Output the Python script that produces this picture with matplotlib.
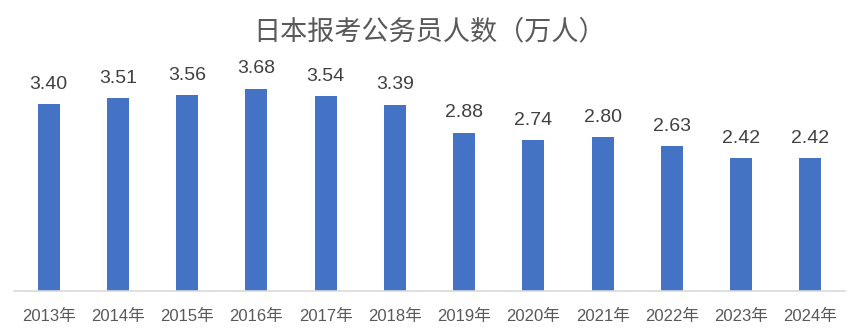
import numpy as np
import matplotlib
matplotlib.use("Agg")
import matplotlib.pyplot as plt

plt.rcParams['font.family'] = ['Liberation Sans', 'Noto Sans CJK SC', 'DejaVu Sans']

years = ["2013年", "2014年", "2015年", "2016年", "2017年", "2018年",
         "2019年", "2020年", "2021年", "2022年", "2023年", "2024年"]
values = [3.40, 3.51, 3.56, 3.68, 3.54, 3.39, 2.88, 2.74, 2.80, 2.63, 2.42, 2.42]

fig = plt.figure(figsize=(8.59, 3.33), dpi=100)
ax = fig.add_axes([0.0163, 0.1261, 0.9674, 0.6607])

x = np.arange(len(years))
ax.bar(x, values, width=0.32, color="#4472C4", zorder=2)
for xi, v in zip(x, values):
    ax.annotate(f"{v:.2f}", (xi, v), xytext=(0, 8), textcoords="offset points",
                ha="center", va="bottom", fontsize=14, color="#404040")

ax.set_xlim(-0.5, len(years) - 0.5)
ax.set_ylim(0, 4.0)
ax.set_xticks(x)
ax.set_xticklabels(years, fontsize=12, color="#595959")
ax.tick_params(axis="x", length=0, pad=13)
ax.set_yticks([])
for s in ["left", "right", "top"]:
    ax.spines[s].set_visible(False)
ax.spines["bottom"].set_color("#D9D9D9")
ax.spines["bottom"].set_linewidth(1.2)

fig.text(0.5, 0.905, "日本报考公务员人数（万人）", ha="center", va="center",
         fontsize=19.5, color="#595959", family=["Noto Sans CJK SC"], fontweight="light")

fig.savefig("out.png", dpi=100)
